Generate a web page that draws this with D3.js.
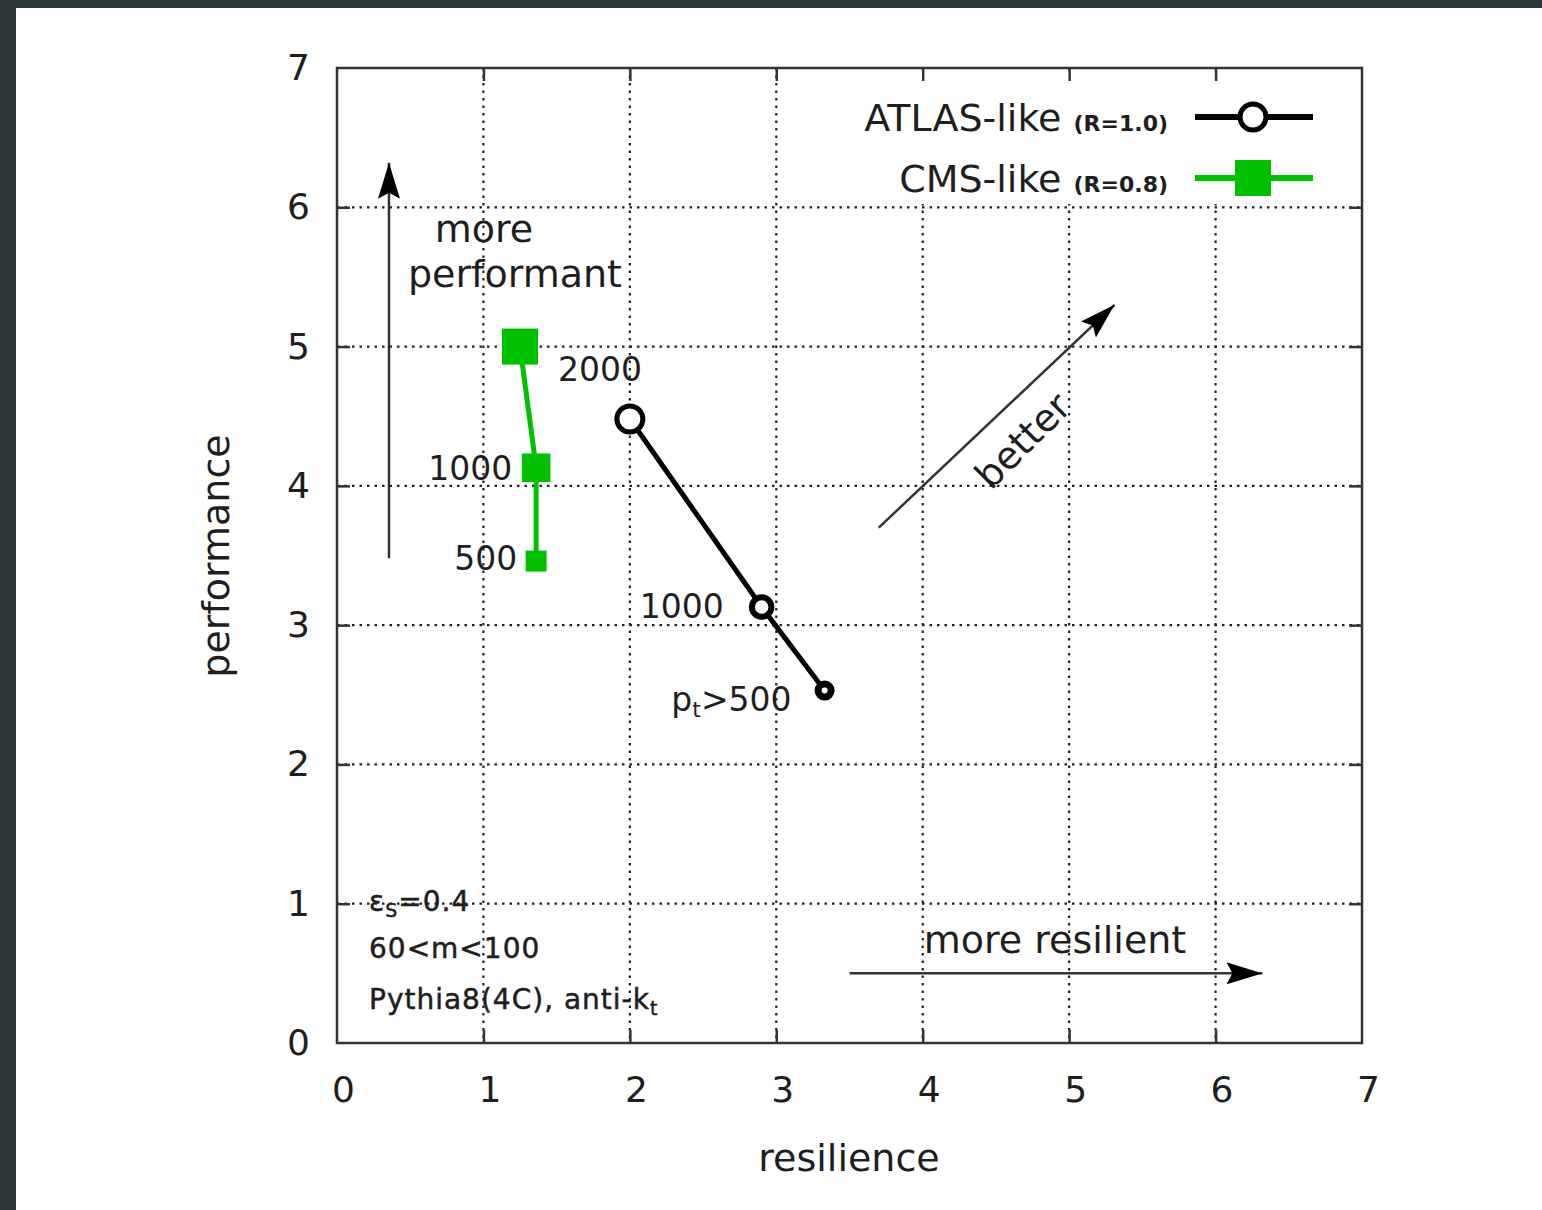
<!DOCTYPE html>
<html>
<head>
<meta charset="utf-8">
<script src="https://cdn.jsdelivr.net/npm/d3@7"></script>
<style>
  html, body { margin: 0; padding: 0; background: #2f373b; }
  #chart { position: absolute; left: 16px; top: 8px; }
  text { font-family: "DejaVu Sans", sans-serif; fill: #1e1e1e; }
</style>
</head>
<body>
<div id="chart"></div>
<script>
/*
 *  Data
 */
const ptCuts = [2000, 1000, 500];
const atlasResilience = [2.0, 2.9, 3.33];
const atlasPerformance = [4.48, 3.13, 2.53];
const cmsResilience = [1.25, 1.36, 1.36];
const cmsPerformance = [5.0, 4.13, 3.46];
const tickValues = [0, 1, 2, 3, 4, 5, 6, 7];
const gridValues = [1, 2, 3, 4, 5, 6];

const atlas = ptCuts.map((pt, i) => ({pt: pt, x: atlasResilience[i], y: atlasPerformance[i]}));
const cms = ptCuts.map((pt, i) => ({pt: pt, x: cmsResilience[i], y: cmsPerformance[i]}));

/*
 *  Draw chart
 */
const width = 1526;
const height = 1202;
const ox = 16, oy = 8; // offset of the white page inside the window

const svg = d3.select('#chart').append('svg')
    .attr('width', width)
    .attr('height', height)
    .style('background', '#fff');

const g = svg.append('g').attr('transform', `translate(${-ox},${-oy})`);

const xScale = d3.scaleLinear().domain([0, 7]).range([337, 1362]);
const yScale = d3.scaleLinear().domain([0, 7]).range([1043, 68]);
// marker size grows with the pt cut
const sizeScale = d3.scaleLog().domain([500, 2000]).range([21, 36]);
const radiusScale = d3.scaleLog().domain([500, 2000]).range([6.5, 13]);
const ringScale = d3.scaleLog().domain([500, 2000]).range([7, 5]);

const green = '#00c000';

// arrow heads
const defs = svg.append('defs');
defs.append('marker')
    .attr('id', 'head')
    .attr('viewBox', '0 0 36 22')
    .attr('refX', 36).attr('refY', 11)
    .attr('markerWidth', 36).attr('markerHeight', 22)
    .attr('markerUnits', 'userSpaceOnUse')
    .attr('orient', 'auto')
    .append('path')
    .attr('d', 'M0,0 L36,11 L0,22 L6,11 Z')
    .attr('fill', '#000');

// grid
const grid = g.append('g').attr('stroke', '#222').attr('stroke-width', 2.2)
    .attr('stroke-dasharray', '2.5 5');
grid.selectAll('.gx').data(gridValues).enter().append('line')
    .attr('x1', d => xScale(d)).attr('x2', d => xScale(d))
    .attr('y1', yScale(7)).attr('y2', yScale(0));
grid.selectAll('.gy').data(gridValues).enter().append('line')
    .attr('y1', d => yScale(d)).attr('y2', d => yScale(d))
    .attr('x1', xScale(0)).attr('x2', xScale(7));

// opaque key box
g.append('rect')
    .attr('x', 786).attr('y', yScale(7) + 2)
    .attr('width', xScale(7) - 788).attr('height', 134)
    .attr('fill', '#fff');

// axes with inward ticks
const fmt = d3.format('d');
const xAxis = d3.axisBottom(xScale).tickValues(tickValues).tickFormat(fmt)
    .tickSize(-13).tickSizeOuter(0).tickPadding(33);
const yAxis = d3.axisLeft(yScale).tickValues(tickValues).tickFormat(fmt)
    .tickSize(-13).tickSizeOuter(0).tickPadding(27);

const xAxisGroup = g.append('g').attr('transform', `translate(0,${yScale(0)})`).call(xAxis);
const yAxisGroup = g.append('g').attr('transform', `translate(${xScale(0)},0)`).call(yAxis);
g.append('g').attr('transform', `translate(0,${yScale(7)})`)
    .call(d3.axisTop(xScale).tickValues(tickValues).tickSize(-13).tickSizeOuter(0).tickFormat(''));
g.append('g').attr('transform', `translate(${xScale(7)},0)`)
    .call(d3.axisRight(yScale).tickValues(tickValues).tickSize(-13).tickSizeOuter(0).tickFormat(''));

g.selectAll('.domain').remove();
g.selectAll('.tick line').attr('stroke', '#333').attr('stroke-width', 2.5);
xAxisGroup.selectAll('text').attr('font-size', 36).attr('dx', 6).attr('fill', '#1e1e1e');
yAxisGroup.selectAll('text').attr('font-size', 36).attr('fill', '#1e1e1e');
g.selectAll('.tick').filter(d => d === 0 || d === 7).select('line').remove();

// frame
g.append('rect')
    .attr('x', xScale(0)).attr('y', yScale(7))
    .attr('width', xScale(7) - xScale(0)).attr('height', yScale(0) - yScale(7))
    .attr('fill', 'none').attr('stroke', '#333').attr('stroke-width', 2.5);

// axis titles
g.append('text').attr('x', 849).attr('y', 1171).attr('text-anchor', 'middle')
    .attr('font-size', 38).text('resilience');
g.append('text').attr('transform', 'translate(229,556) rotate(-90)').attr('text-anchor', 'middle')
    .attr('font-size', 38).text('performance');

// annotation arrows
function arrow(x1, y1, x2, y2) {
    g.append('line')
        .attr('x1', xScale(x1)).attr('y1', yScale(y1))
        .attr('x2', xScale(x2)).attr('y2', yScale(y2))
        .attr('stroke', '#333').attr('stroke-width', 2.5)
        .attr('marker-end', 'url(#head)');
}
arrow(0.355, 3.48, 0.355, 6.32);
arrow(3.7, 3.7, 5.31, 5.3);
arrow(3.5, 0.5, 6.32, 0.5);

g.append('text').attr('x', 484).attr('y', 242).attr('text-anchor', 'middle')
    .attr('font-size', 38).text('more');
g.append('text').attr('x', 515).attr('y', 287).attr('text-anchor', 'middle')
    .attr('font-size', 38).text('performant');
g.append('text').attr('x', 1055).attr('y', 953).attr('text-anchor', 'middle')
    .attr('font-size', 38).text('more resilient');
g.append('text').attr('transform', 'translate(1032,450) rotate(-45)').attr('text-anchor', 'middle')
    .attr('font-size', 38).text('better');

// lines
const line = d3.line().x(d => xScale(d.x)).y(d => yScale(d.y));

g.append('path').datum(cms).attr('d', line)
    .attr('fill', 'none').attr('stroke', green).attr('stroke-width', 5);
g.selectAll('.cms').data(cms).enter().append('rect')
    .attr('x', d => xScale(d.x) - sizeScale(d.pt) / 2)
    .attr('y', d => yScale(d.y) - sizeScale(d.pt) / 2)
    .attr('width', d => sizeScale(d.pt))
    .attr('height', d => sizeScale(d.pt))
    .attr('fill', green);

g.append('path').datum(atlas).attr('d', line)
    .attr('fill', 'none').attr('stroke', '#000').attr('stroke-width', 5);
g.selectAll('.atlas').data(atlas).enter().append('circle')
    .attr('cx', d => xScale(d.x)).attr('cy', d => yScale(d.y))
    .attr('r', d => radiusScale(d.pt))
    .attr('fill', '#fff').attr('stroke', '#000')
    .attr('stroke-width', d => ringScale(d.pt));

// point labels
const labelFont = 33;
g.append('text').attr('x', xScale(cms[0].x) + 38).attr('y', yScale(cms[0].y) + 34)
    .attr('font-size', labelFont).text(ptCuts[0]);
g.append('text').attr('x', xScale(cms[1].x) - 24).attr('y', yScale(cms[1].y) + 12)
    .attr('text-anchor', 'end').attr('font-size', labelFont).text(ptCuts[1]);
g.append('text').attr('x', xScale(cms[2].x) - 19).attr('y', yScale(cms[2].y) + 9)
    .attr('text-anchor', 'end').attr('font-size', labelFont).text(ptCuts[2]);
g.append('text').attr('x', xScale(atlas[1].x) - 38).attr('y', yScale(atlas[1].y) + 11)
    .attr('text-anchor', 'end').attr('font-size', labelFont).text(ptCuts[1]);
const ptLabel = g.append('text').attr('x', xScale(atlas[2].x) - 33).attr('y', yScale(atlas[2].y) + 20)
    .attr('text-anchor', 'end').attr('font-size', labelFont);
ptLabel.append('tspan').text('p');
ptLabel.append('tspan').attr('font-size', 22).attr('dy', 6).text('t');
ptLabel.append('tspan').attr('dy', -6).text('>' + ptCuts[2]);

// key
const keyX1 = 1195, keyX2 = 1313, keyMid = 1253;
const keyRows = [
    {name: 'ATLAS-like', r: '(R=1.0)', y: 117, color: '#000'},
    {name: 'CMS-like', r: '(R=0.8)', y: 178, color: green}
];
keyRows.forEach(row => {
    const t = g.append('text').attr('x', 1168).attr('y', row.y + 14)
        .attr('text-anchor', 'end');
    t.append('tspan').attr('font-size', 38).text(row.name + ' ');
    t.append('tspan').attr('font-size', 22).attr('font-weight', 'bold').text(row.r);
    g.append('line').attr('x1', keyX1).attr('x2', keyX2)
        .attr('y1', row.y).attr('y2', row.y)
        .attr('stroke', row.color).attr('stroke-width', 6);
});
g.append('circle').attr('cx', keyMid).attr('cy', keyRows[0].y).attr('r', 13)
    .attr('fill', '#fff').attr('stroke', '#000').attr('stroke-width', 5);
g.append('rect').attr('x', keyMid - 18).attr('y', keyRows[1].y - 18)
    .attr('width', 36).attr('height', 36).attr('fill', green);

// run conditions
const info = g.append('g').style('letter-spacing', '1px')
    .attr('stroke', '#1e1e1e').attr('stroke-width', 0.5);
const eps = info.append('text').attr('x', 369).attr('y', 911).attr('font-size', 28);
eps.append('tspan').text('\u03b5');
eps.append('tspan').attr('font-size', 19).attr('dy', 6).text('S');
eps.append('tspan').attr('dy', -6).text('=0.4');
info.append('text').attr('x', 369).attr('y', 958).attr('font-size', 28)
    .text('60<m<100');
const py = info.append('text').attr('x', 369).attr('y', 1009).attr('font-size', 28);
py.append('tspan').text('Pythia8(4C), anti-k');
py.append('tspan').attr('font-size', 19).attr('dy', 6).text('t');
</script>
</body>
</html>
